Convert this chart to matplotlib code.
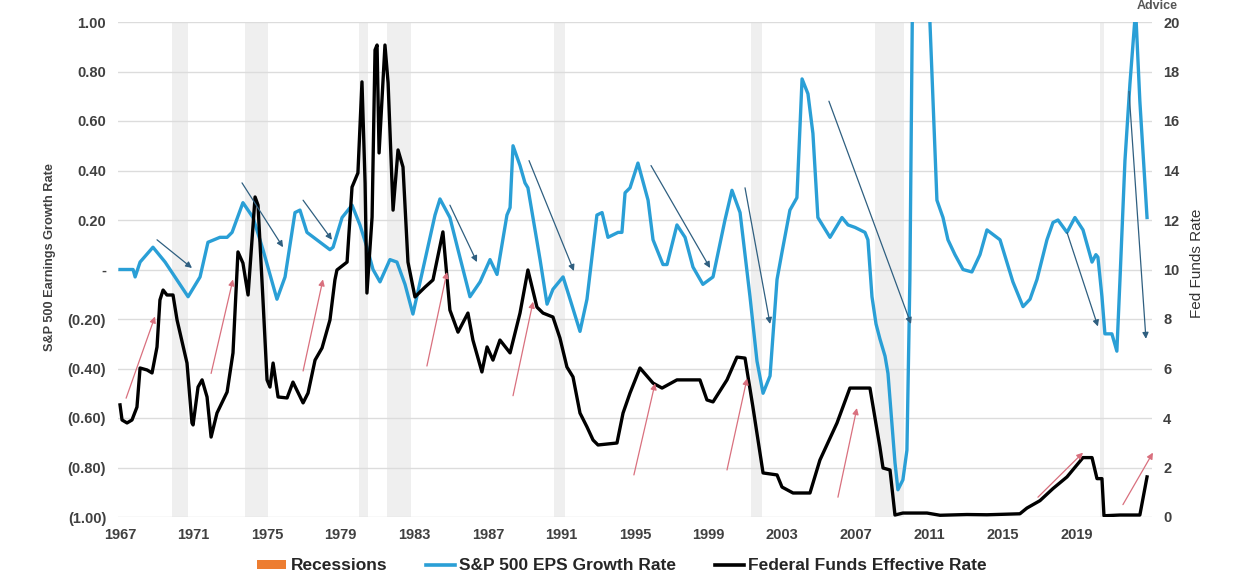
import matplotlib
matplotlib.use("Agg")
import matplotlib.pyplot as plt
from matplotlib.patches import Patch
from matplotlib.lines import Line2D

plt.rcParams['font.family'] = ['Liberation Sans', 'DejaVu Sans']

# ---------------- data ----------------
eps_years = [1967.0, 1967.71, 1967.82, 1968.09, 1968.79, 1969.45, 1970.70, 1971.35, 1971.78, 1972.43,
             1972.82, 1973.09, 1973.68, 1974.23, 1974.77, 1975.53, 1975.97, 1976.51, 1976.78, 1977.16,
             1977.87, 1978.41, 1978.58, 1979.07, 1979.61, 1980.04, 1980.42, 1980.75, 1981.13, 1981.67,
             1982.05, 1982.49, 1982.92, 1983.58, 1984.12, 1984.39, 1984.93, 1985.37, 1986.02, 1986.57,
             1987.11, 1987.49, 1988.03, 1988.20, 1988.36, 1988.74, 1989.01, 1989.17, 1989.83, 1990.21,
             1990.53, 1991.08, 1991.46, 1992.00, 1992.38, 1992.92, 1993.20, 1993.52, 1994.07, 1994.28,
             1994.45, 1994.72, 1995.15, 1995.70, 1995.97, 1996.51, 1996.73, 1997.27, 1997.71, 1998.14,
             1998.68, 1999.23, 1999.88, 2000.26, 2000.70, 2001.24, 2001.62, 2001.95, 2002.33, 2002.71,
             2002.98, 2003.41, 2003.79, 2004.07, 2004.39, 2004.66, 2004.93, 2005.59, 2006.24, 2006.57,
             2006.95, 2007.49, 2007.65, 2007.87, 2008.09, 2008.30, 2008.58, 2008.74, 2009.12, 2009.28,
             2009.55, 2009.77, 2009.93, 2010.05, 2010.50, 2011.02, 2011.40, 2011.73, 2012.00, 2012.38,
             2012.82, 2013.30, 2013.74, 2014.12, 2014.83, 2015.53, 2016.08, 2016.46, 2016.84, 2017.38,
             2017.71, 2017.98, 2018.47, 2018.90, 2019.34, 2019.83, 2020.04, 2020.15, 2020.37, 2020.53,
             2020.91, 2021.18, 2021.35, 2021.62, 2021.89, 2022.20, 2022.43, 2022.82]
eps_growth = [0.00, 0.00, -0.03, 0.03, 0.09, 0.03, -0.11, -0.03, 0.11, 0.13,
              0.13, 0.15, 0.27, 0.21, 0.08, -0.12, -0.03, 0.23, 0.24, 0.15,
              0.11, 0.08, 0.09, 0.21, 0.26, 0.18, 0.09, 0.00, -0.05, 0.04,
              0.03, -0.06, -0.18, 0.04, 0.22, 0.285, 0.21, 0.08, -0.11, -0.05,
              0.04, -0.02, 0.22, 0.25, 0.50, 0.42, 0.35, 0.33, 0.04, -0.14,
              -0.08, -0.03, -0.12, -0.25, -0.12, 0.22, 0.23, 0.13, 0.15, 0.15,
              0.31, 0.33, 0.43, 0.28, 0.12, 0.02, 0.02, 0.18, 0.13, 0.01,
              -0.06, -0.03, 0.20, 0.32, 0.23, -0.11, -0.37, -0.50, -0.43, -0.04,
              0.07, 0.24, 0.29, 0.77, 0.71, 0.55, 0.21, 0.13, 0.21, 0.18,
              0.17, 0.15, 0.12, -0.11, -0.22, -0.28, -0.35, -0.42, -0.78, -0.89,
              -0.85, -0.73, -0.04, 0.90, 5.00, 1.00, 0.28, 0.21, 0.12, 0.06,
              0.00, -0.01, 0.06, 0.16, 0.12, -0.05, -0.15, -0.12, -0.04, 0.12,
              0.19, 0.20, 0.15, 0.21, 0.16, 0.03, 0.06, 0.05, -0.11, -0.26,
              -0.26, -0.33, -0.04, 0.44, 0.75, 1.05, 0.68, 0.21]

ff_years = [1967.0, 1967.11, 1967.38, 1967.65, 1967.92, 1968.09, 1968.47, 1968.74, 1969.01, 1969.17,
            1969.34, 1969.55, 1969.88, 1970.10, 1970.64, 1970.91, 1970.97, 1971.24, 1971.46, 1971.73,
            1971.95, 1972.27, 1972.82, 1973.14, 1973.41, 1973.68, 1973.96, 1974.34, 1974.50, 1974.77,
            1974.99, 1975.15, 1975.32, 1975.59, 1976.08, 1976.40, 1976.95, 1977.22, 1977.60, 1977.98,
            1978.41, 1978.68, 1978.79, 1979.34, 1979.61, 1979.93, 1980.15, 1980.32, 1980.42, 1980.70,
            1980.86, 1980.97, 1981.08, 1981.40, 1981.57, 1981.84, 1982.11, 1982.38, 1982.65, 1983.03,
            1983.58, 1984.01, 1984.55, 1984.93, 1985.37, 1985.91, 1986.18, 1986.67, 1986.95, 1987.27,
            1987.65, 1988.20, 1988.74, 1989.17, 1989.66, 1989.99, 1990.53, 1990.91, 1991.29, 1991.62,
            1992.00, 1992.38, 1992.71, 1992.98, 1994.01, 1994.34, 1994.72, 1995.26, 1995.97, 1996.46,
            1997.27, 1998.52, 1998.90, 1999.23, 1999.99, 2000.53, 2000.97, 2001.40, 2001.95, 2002.71,
            2002.98, 2003.58, 2004.50, 2005.04, 2005.97, 2006.67, 2007.76, 2008.30, 2008.47, 2008.85,
            2009.12, 2009.55, 2010.86, 2011.57, 2013.03, 2014.12, 2015.91, 2016.29, 2017.00, 2017.71,
            2018.47, 2019.34, 2019.83, 2020.10, 2020.37, 2020.48, 2021.35, 2022.43, 2022.82]
ff_rate = [4.53, 3.92, 3.80, 3.92, 4.44, 6.02, 5.94, 5.82, 6.87, 8.77,
           9.17, 8.97, 8.97, 7.96, 6.22, 3.80, 3.72, 5.25, 5.54, 4.85,
           3.23, 4.20, 5.05, 6.63, 10.71, 10.26, 8.97, 12.93, 12.60, 8.77,
           5.54, 5.25, 6.22, 4.85, 4.81, 5.45, 4.61, 5.01, 6.34, 6.83,
           7.96, 9.58, 9.98, 10.30, 13.33, 13.90, 17.58, 13.49, 9.05, 12.12,
           18.87, 19.07, 14.71, 19.07, 17.54, 12.40, 14.83, 14.14, 10.30, 8.89,
           9.29, 9.58, 11.52, 8.36, 7.47, 8.24, 7.15, 5.86, 6.87, 6.34,
           7.15, 6.63, 8.24, 9.98, 8.48, 8.24, 8.08, 7.23, 6.06, 5.66,
           4.20, 3.64, 3.11, 2.91, 2.99, 4.20, 5.01, 6.02, 5.41, 5.21,
           5.54, 5.54, 4.73, 4.65, 5.54, 6.46, 6.42, 4.44, 1.78, 1.70,
           1.21, 0.97, 0.97, 2.30, 3.80, 5.21, 5.21, 2.83, 1.98, 1.90,
           0.08, 0.16, 0.16, 0.07, 0.10, 0.09, 0.13, 0.36, 0.66, 1.15,
           1.62, 2.40, 2.40, 1.55, 1.55, 0.05, 0.08, 0.08, 1.62]

recession_start = [1969.8, 1973.8, 1980.0, 1981.5, 1990.6, 2001.3, 2008.05, 2020.25]
recession_end = [1970.7, 1975.05, 1980.5, 1982.8, 1991.2, 2001.9, 2009.6, 2020.5]

# annotation arrows (year, EPS-axis value): start -> head
red_arrows = [((1967.33, -0.52), (1968.90, -0.19)),
              ((1971.95, -0.42), (1973.14, -0.04)),
              ((1976.95, -0.41), (1978.03, -0.04)),
              ((1983.68, -0.39), (1984.77, -0.01)),
              ((1988.36, -0.51), (1989.45, -0.13)),
              ((1994.93, -0.83), (1996.08, -0.46)),
              ((1999.99, -0.81), (2001.08, -0.44)),
              ((2006.02, -0.92), (2007.05, -0.56)),
              ((2016.89, -0.92), (2019.34, -0.74)),
              ((2021.51, -0.95), (2023.14, -0.74))]
blue_arrows = [((1969.01, 0.12), (1970.91, 0.006)),
               ((1973.63, 0.35), (1975.86, 0.09)),
               ((1976.95, 0.28), (1978.52, 0.12)),
               ((1984.93, 0.26), (1986.40, 0.03)),
               ((1989.23, 0.44), (1991.67, -0.006)),
               ((1995.86, 0.42), (1999.07, 0.006)),
               ((2000.97, 0.33), (2002.33, -0.22)),
               ((2005.53, 0.68), (2009.99, -0.22)),
               ((2018.47, 0.15), (2020.15, -0.23)),
               ((2021.84, 0.72), (2022.76, -0.28))]

x_ticks = [1967, 1971, 1975, 1979, 1983, 1987, 1991, 1995, 1999, 2003, 2007, 2011, 2015, 2019]
left_ticks = [1.0, 0.8, 0.6, 0.4, 0.2, 0.0, -0.2, -0.4, -0.6, -0.8, -1.0]
left_labels = ["1.00", "0.80", "0.60", "0.40", "0.20", "-", "(0.20)", "(0.40)", "(0.60)", "(0.80)", "(1.00)"]
right_ticks = [0, 2, 4, 6, 8, 10, 12, 14, 16, 18, 20]

# ---------------- style ----------------
BLUE = "#2a9fd6"
BLACK = "#000000"
ORANGE = "#ed7d31"
GREY_SPAN = "#efefef"
GRID = "#dcdcdc"
TICK_C = "#404040"
RED_ARROW = "#d9707e"
BLUE_ARROW = "#2f5f80"

fig = plt.figure(figsize=(12.33, 5.84), dpi=100)
ax = fig.add_axes([118/1233, 1-517/584, (1152-118)/1233, (517-22)/584])
ax2 = ax.twinx()

for s0, s1 in zip(recession_start, recession_end):
    ax.axvspan(s0, s1, color=GREY_SPAN, lw=0, zorder=0)

ax.set_ylim(-1.0, 1.0)
ax.set_xlim(1966.89, 2023.09)
ax.set_yticks(left_ticks)
ax.set_yticklabels(left_labels)
ax.set_xticks(x_ticks)
ax.set_xticklabels([str(t) for t in x_ticks])
ax.grid(axis='y', color=GRID, lw=1.0, zorder=0.5)
ax.set_axisbelow(True)

ax.plot(eps_years, eps_growth, color=BLUE, lw=2.4, zorder=3, solid_joinstyle='round')

ax2.set_ylim(0, 20)
ax2.set_yticks(right_ticks)
ax2.plot(ff_years, ff_rate, color=BLACK, lw=2.4, zorder=3, solid_joinstyle='round')

for a in (ax, ax2):
    for sp in a.spines.values():
        sp.set_visible(False)
    a.tick_params(length=0, colors=TICK_C, labelsize=10.5)
    for lab in a.get_xticklabels() + a.get_yticklabels():
        lab.set_fontweight('bold')
ax.tick_params(axis='y', pad=8.5)
ax.tick_params(axis='x', pad=8)
ax2.tick_params(axis='y', pad=8)

for (p0, p1) in red_arrows:
    ax2.annotate("", xy=p1, xytext=p0, xycoords=ax.transData, textcoords=ax.transData,
                 arrowprops=dict(arrowstyle='-|>', color=RED_ARROW, lw=0.9, mutation_scale=9,
                                 shrinkA=0, shrinkB=0), annotation_clip=False, zorder=5)
for (p0, p1) in blue_arrows:
    ax2.annotate("", xy=p1, xytext=p0, xycoords=ax.transData, textcoords=ax.transData,
                 arrowprops=dict(arrowstyle='-|>', color=BLUE_ARROW, lw=0.9, mutation_scale=9,
                                 shrinkA=0, shrinkB=0), annotation_clip=False, zorder=5)

fig.text(50/1233, 1-257/584, "S&P 500 Earnings Growth Rate", rotation=90, ha='center', va='center',
         fontsize=9.2, fontweight='bold', color=TICK_C)
fig.text(1197/1233, 1-263/584, "Fed Funds Rate", rotation=90, ha='center', va='center',
         fontsize=11, fontweight='normal', color="#333333")
fig.text(1157/1233, 1-6/584, "Advice", ha='center', va='center', fontsize=9,
         fontweight='bold', color="#555555")

handles = [Patch(facecolor=ORANGE, edgecolor='none'),
           Line2D([0], [0], color=BLUE, lw=2.6),
           Line2D([0], [0], color=BLACK, lw=2.6)]
labels = ["Recessions", "S&P 500 EPS Growth Rate", "Federal Funds Effective Rate"]
leg = fig.legend(handles, labels, loc='center', bbox_to_anchor=(622/1233, 1-566/584), ncol=3,
                 frameon=False, prop={'weight': 'bold', 'size': 12.5}, handlelength=1.7,
                 handleheight=0.4, columnspacing=2.2, handletextpad=0.25)
for t in leg.get_texts():
    t.set_color("#262626")

fig.savefig("out.png", dpi=100)
